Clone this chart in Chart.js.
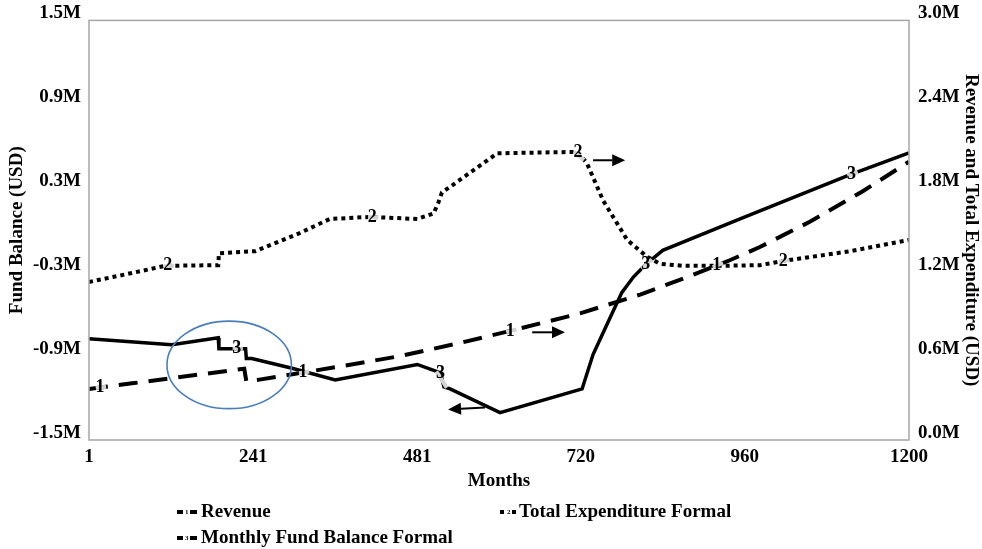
<!DOCTYPE html>
<html>
<head>
<meta charset="utf-8">
<script src="https://cdn.jsdelivr.net/npm/chart.js@4.4.1/dist/chart.umd.min.js"></script>
<style>
  html, body { margin: 0; padding: 0; background: #fff; }
  #wrap { width: 982px; height: 549px; }
</style>
</head>
<body>
<div id="wrap"><canvas id="fundChart" width="982" height="549"></canvas></div>
<script>
const FONT = "'Liberation Serif', 'Times New Roman', serif";

// axis ticks
const xTicks = [1, 241, 481, 720, 960, 1200];
const leftTicks = [-1.5e6, -0.9e6, -0.3e6, 0.3e6, 0.9e6, 1.5e6];
const rightTicks = [0, 0.6e6, 1.2e6, 1.8e6, 2.4e6, 3.0e6];

// Revenue (right axis, USD)
const revenueMonths = [1, 64, 116, 170, 228, 231, 248, 292, 361, 456, 540, 617, 719, 807, 884, 938, 982, 1055, 1133, 1200];
const revenueValues = [365000, 405000, 438000, 473000, 510000, 420000, 430000, 465000, 520000, 600000, 690000, 780000, 905000, 1040000, 1180000, 1285000, 1380000, 1560000, 1780000, 1990000];

// Total Expenditure Formal (right axis, USD)
const expMonths = [1, 60, 112, 190, 191, 244, 307, 353, 412, 481, 505, 512, 517, 529, 598, 715, 729, 753, 788, 817, 836, 870, 919, 982, 1016, 1114, 1200];
const expValues = [1130000, 1190000, 1245000, 1250000, 1335000, 1350000, 1475000, 1580000, 1595000, 1580000, 1620000, 1700000, 1770000, 1810000, 2050000, 2060000, 1980000, 1710000, 1430000, 1310000, 1260000, 1245000, 1245000, 1250000, 1280000, 1350000, 1430000];

// Monthly Fund Balance Formal (left axis, USD)
const balMonths = [1, 122, 190, 191, 230, 231, 239, 298, 361, 481, 515, 520, 529, 602, 722, 738, 758, 780, 797, 815, 840, 953, 1114, 1200];
const balValues = [-776000, -819000, -769000, -847000, -847000, -917000, -917000, -987000, -1070000, -960000, -1020000, -1120000, -1135000, -1304000, -1135000, -889000, -678000, -446000, -335000, -245000, -144000, 81000, 397000, 552000];

// where the series numbers sit on the lines
const revLabelMonths = [17, 314, 617, 919];
const expLabelMonths = [116, 415, 716, 1016];
const balLabelMonths = [217, 515, 815, 1116];

// arrows pointing to the axis each series belongs to (right axis units)
const arrows = [
  { from: [738, 2.0e6], to: [785, 2.0e6] },
  { from: [649, 0.77e6], to: [697, 0.77e6] },
  { from: [580, 0.232e6], to: [526, 0.218e6] }
];

// highlight ellipse (right axis units)
const ellipse = { month: 206, value: 0.537e6, rxMonths: 91, ryValue: 0.313e6 };

function toPoints(months, values) {
  return months.map((m, i) => ({ x: m, y: values[i] }));
}

function valueAt(months, values, m) {
  for (let i = 1; i < months.length; i++) {
    if (m <= months[i]) {
      let t = (m - months[i - 1]) / (months[i] - months[i - 1]);
      return values[i - 1] + t * (values[i] - values[i - 1]);
    }
  }
  return values[values.length - 1];
}

function fmtM(v) {
  return (v / 1e6).toFixed(1) + "M";
}

const seriesLabels = [
  { months: revenueMonths, values: revenueValues, axis: "y2", digit: "1", at: revLabelMonths },
  { months: expMonths, values: expValues, axis: "y2", digit: "2", at: expLabelMonths },
  { months: balMonths, values: balValues, axis: "y", digit: "3", at: balLabelMonths }
];

const extras = {
  id: "extras",
  afterDatasetsDraw(chart) {
    const ctx = chart.ctx;
    const xs = chart.scales.x;
    const ys = chart.scales.y2;
    const a = chart.chartArea;
    ctx.save();

    // plot frame
    ctx.strokeStyle = "#a6a6a6";
    ctx.lineWidth = 1.5;
    ctx.strokeRect(a.left, a.top, a.right - a.left, a.bottom - a.top);

    // numbers on the lines
    seriesLabels.forEach(s => {
      let sc = chart.scales[s.axis];
      s.at.forEach(m => {
        let x1 = xs.getPixelForValue(m - 6), y1 = sc.getPixelForValue(valueAt(s.months, s.values, m - 6));
        let x2 = xs.getPixelForValue(m + 9), y2 = sc.getPixelForValue(valueAt(s.months, s.values, m + 9));
        ctx.strokeStyle = "#d4d4d4";
        ctx.lineWidth = 4;
        ctx.setLineDash([]);
        ctx.beginPath();
        ctx.moveTo(x1, y1);
        ctx.lineTo(x2, y2);
        ctx.stroke();
        let px = xs.getPixelForValue(m), py = sc.getPixelForValue(valueAt(s.months, s.values, m));
        ctx.fillStyle = "#000";
        ctx.font = "bold 18px " + FONT;
        ctx.textAlign = "center";
        ctx.textBaseline = "middle";
        ctx.fillText(s.digit, px, py);
      });
    });

    // arrows
    arrows.forEach(ar => {
      let x0 = xs.getPixelForValue(ar.from[0]), y0 = ys.getPixelForValue(ar.from[1]);
      let x1 = xs.getPixelForValue(ar.to[0]), y1 = ys.getPixelForValue(ar.to[1]);
      let ang = Math.atan2(y1 - y0, x1 - x0);
      let head = 13, half = 6;
      let bx = x1 - head * Math.cos(ang), by = y1 - head * Math.sin(ang);
      ctx.strokeStyle = "#000";
      ctx.lineWidth = 2;
      ctx.beginPath();
      ctx.moveTo(x0, y0);
      ctx.lineTo(bx, by);
      ctx.stroke();
      ctx.fillStyle = "#000";
      ctx.beginPath();
      ctx.moveTo(x1, y1);
      ctx.lineTo(bx + half * Math.sin(ang), by - half * Math.cos(ang));
      ctx.lineTo(bx - half * Math.sin(ang), by + half * Math.cos(ang));
      ctx.closePath();
      ctx.fill();
    });

    // ellipse
    let cx = xs.getPixelForValue(ellipse.month), cy = ys.getPixelForValue(ellipse.value);
    let rx = xs.getPixelForValue(ellipse.month + ellipse.rxMonths) - cx;
    let ry = cy - ys.getPixelForValue(ellipse.value + ellipse.ryValue);
    ctx.strokeStyle = "#4a7ebb";
    ctx.lineWidth = 1.6;
    ctx.beginPath();
    ctx.ellipse(cx, cy, rx, ry, 0, 0, Math.PI * 2);
    ctx.stroke();

    ctx.restore();
  },
  afterDraw(chart) {
    const ctx = chart.ctx;
    ctx.save();
    ctx.fillStyle = "#000";
    ctx.textBaseline = "middle";
    ctx.textAlign = "left";

    function dashSym(x, y, digit) {
      ctx.fillRect(x, y - 2, 6, 4);
      ctx.font = "bold 7px " + FONT;
      ctx.fillText(digit, x + 8, y);
      ctx.fillRect(x + 13, y - 2, 7, 4);
    }
    function dotSym(x, y, digit) {
      ctx.fillRect(x, y - 2, 4, 4);
      ctx.font = "bold 7px " + FONT;
      ctx.fillText(digit, x + 7, y);
      ctx.fillRect(x + 12, y - 2, 4, 4);
    }

    dashSym(177, 512, "1");
    dotSym(500, 512, "2");
    dashSym(177, 538, "3");

    ctx.font = "bold 19px " + FONT;
    ctx.fillText("Revenue", 201, 512);
    ctx.fillText("Total Expenditure Formal", 519, 512);
    ctx.fillText("Monthly Fund Balance Formal", 201, 538);
    ctx.restore();
  }
};

const tickFont = { family: FONT, size: 19, weight: "bold" };

new Chart(document.getElementById("fundChart"), {
  type: "line",
  data: {
    datasets: [
      {
        label: "Revenue",
        data: toPoints(revenueMonths, revenueValues),
        yAxisID: "y2",
        borderColor: "#000",
        borderWidth: 4,
        borderDash: [19, 11],
        pointRadius: 0,
        tension: 0
      },
      {
        label: "Total Expenditure Formal",
        data: toPoints(expMonths, expValues),
        yAxisID: "y2",
        borderColor: "#000",
        borderWidth: 4,
        borderDash: [4, 4],
        pointRadius: 0,
        tension: 0
      },
      {
        label: "Monthly Fund Balance Formal",
        data: toPoints(balMonths, balValues),
        yAxisID: "y",
        borderColor: "#000",
        borderWidth: 3.5,
        pointRadius: 0,
        tension: 0
      }
    ]
  },
  options: {
    responsive: false,
    animation: false,
    devicePixelRatio: 1,
    layout: { padding: { top: 13, left: 0, right: 0, bottom: 0 } },
    plugins: {
      legend: { display: false },
      tooltip: { enabled: false }
    },
    scales: {
      x: {
        type: "linear",
        min: 1,
        max: 1200,
        grid: { display: false, drawTicks: false },
        border: { display: false },
        afterBuildTicks: s => { s.ticks = xTicks.map(v => ({ value: v })); },
        afterFit: s => { s.height = 109; },
        ticks: {
          color: "#000",
          font: tickFont,
          padding: 6,
          maxRotation: 0,
          autoSkip: false,
          callback: v => String(v)
        },
        title: {
          display: true,
          text: "Months",
          color: "#000",
          font: tickFont,
          padding: { top: 0, bottom: 57 }
        }
      },
      y: {
        position: "left",
        min: -1.5e6,
        max: 1.5e6,
        grid: { display: false, drawTicks: false },
        border: { display: false },
        afterBuildTicks: s => { s.ticks = leftTicks.map(v => ({ value: v })); },
        afterFit: s => { s.width = 89; },
        ticks: { color: "#000", font: tickFont, padding: 8, labelOffset: -7, callback: v => fmtM(v) },
        title: {
          display: true,
          text: "Fund Balance (USD)",
          color: "#000",
          font: tickFont,
          padding: { top: 6, bottom: 0 }
        }
      },
      y2: {
        position: "right",
        min: 0,
        max: 3.0e6,
        grid: { display: false, drawTicks: false },
        border: { display: false },
        afterBuildTicks: s => { s.ticks = rightTicks.map(v => ({ value: v })); },
        afterFit: s => { s.width = 73; },
        ticks: { color: "#000", font: tickFont, padding: 9, labelOffset: -7, callback: v => fmtM(v) },
        title: {
          display: true,
          text: "Revenue and Total Expenditure (USD)",
          color: "#000",
          font: tickFont,
          padding: { top: 0, bottom: 0 }
        }
      }
    }
  },
  plugins: [extras]
});
</script>
</body>
</html>
